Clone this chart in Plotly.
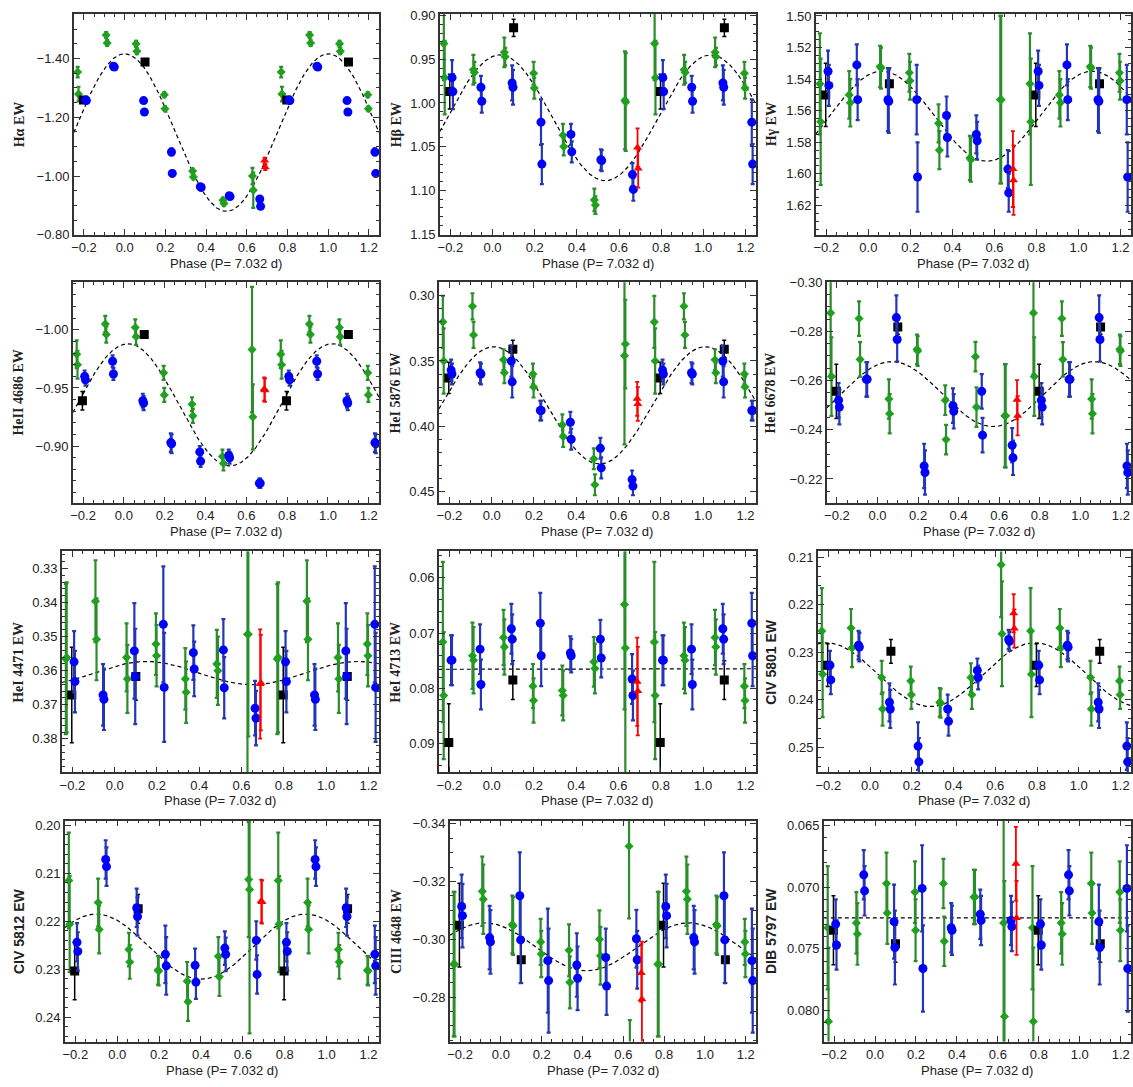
import numpy as np
import plotly.graph_objects as go

# ---------------- phases (base, folded into [0,1)) ----------------
GREEN_PHASE = [0.056, 0.060, 0.195, 0.198, 0.334, 0.338, 0.483, 0.488,
               0.628, 0.632, 0.769, 0.773, 0.909, 0.914]
BLUE_PHASE = [0.093, 0.097, 0.230, 0.234, 0.372, 0.376, 0.514, 0.518,
              0.664, 0.668, 0.808, 0.812, 0.945, 0.949]
BLACK_PHASE = [0.100, 0.797]
RED_PHASE = [0.688, 0.691]

# ---------------- H alpha ----------------
ha_green = [-1.450, -1.425, -1.277, -1.229, -1.017, -0.997, -0.918, -0.907,
            -1.000, -0.952, -1.354, -1.279, -1.480, -1.453]
ha_green_err = [0.010, 0.010, 0.008, 0.008, 0.008, 0.008, 0.008, 0.008,
                0.028, 0.060, 0.018, 0.025, 0.010, 0.010]
ha_blue = [-1.257, -1.218, -1.082, -1.009, -0.964, -0.961, -0.933, -0.930,
           -0.922, -0.897, -1.259, -1.257, -1.374, -1.371]
ha_blue_err = [0.008, 0.008, 0.012, 0.010, 0.006, 0.006, 0.006, 0.006,
               0.006, 0.006, 0.006, 0.006, 0.006, 0.006]
ha_black = [-1.388, -1.259]
ha_black_err = [0.005, 0.005]
ha_red = [-1.053, -1.030]
ha_red_err = [0.010, 0.010]
ha_fit = (-1.148, 0.268, 0.0)

# ---------------- H beta ----------------
hb_green = [0.942, 0.947, 0.966, 0.983, 1.037, 1.050, 1.111, 1.117,
            0.997, 0.999, 0.932, 0.971, 0.962, 0.965]
hb_green_err = [0.017, 0.010, 0.013, 0.012, 0.013, 0.010, 0.013, 0.010,
                0.056, 0.056, 0.042, 0.042, 0.017, 0.012]
hb_blue = [0.977, 0.982, 1.022, 1.070, 1.036, 1.056, 1.065, 1.066,
           1.082, 1.099, 0.971, 0.987, 0.982, 0.998]
hb_blue_err = [0.020, 0.020, 0.026, 0.023, 0.012, 0.012, 0.012, 0.012,
               0.013, 0.013, 0.020, 0.020, 0.013, 0.013]
hb_black = [0.914, 0.987]
hb_black_err = [0.010, 0.020]
hb_red = [1.051, 1.075]
hb_red_err = [0.022, 0.022]
hb_fit = (1.017, 0.072, 0.035)

# ---------------- H gamma ----------------
hg_green = [1.532, 1.533, 1.536, 1.541, 1.568, 1.585, 1.590, 1.591,
            1.553, 1.553, 1.543, 1.567, 1.550, 1.555]
hg_green_err = [0.013, 0.013, 0.012, 0.012, 0.012, 0.012, 0.014, 0.014,
                0.053, 0.053, 0.032, 0.040, 0.015, 0.015]
hg_blue = [1.553, 1.554, 1.553, 1.602, 1.563, 1.577, 1.575, 1.579,
           1.597, 1.612, 1.535, 1.544, 1.531, 1.553]
hg_blue_err = [0.020, 0.020, 0.022, 0.022, 0.012, 0.012, 0.012, 0.012,
               0.012, 0.012, 0.013, 0.013, 0.013, 0.013]
hg_black = [1.543, 1.550]
hg_black_err = [0.010, 0.020]
hg_red = [1.597, 1.604]
hg_red_err = [0.024, 0.022]
hg_fit = (1.5635, 0.0285, 0.065)

# ---------------- HeII 4686 ----------------
he4686_green = [-1.002, -0.994, -0.963, -0.944, -0.936, -0.926, -0.891, -0.885,
                -0.983, -0.925, -0.979, -0.970, -1.005, -0.996]
he4686_green_err = [0.007, 0.007, 0.006, 0.006, 0.006, 0.006, 0.006, 0.006,
                    0.054, 0.028, 0.012, 0.012, 0.007, 0.007]
he4686_blue = [-0.939, -0.937, -0.903, -0.902, -0.895, -0.887, -0.892, -0.890,
               -0.868, -0.868, -0.960, -0.957, -0.973, -0.962]
he4686_blue_err = [0.006, 0.006, 0.008, 0.008, 0.005, 0.005, 0.005, 0.005,
                   0.004, 0.004, 0.005, 0.005, 0.005, 0.005]
he4686_black = [-0.996, -0.939]
he4686_black_err = [0.003, 0.008]
he4686_red = [-0.949, -0.948]
he4686_red_err = [0.010, 0.010]
he4686_fit = (-0.9355, 0.0525, 0.02)

# ---------------- HeI 5876 ----------------
he5876_green = [0.349, 0.359, 0.360, 0.370, 0.399, 0.408, 0.425, 0.445,
                0.346, 0.337, 0.320, 0.350, 0.308, 0.330]
he5876_green_err = [0.008, 0.008, 0.008, 0.008, 0.008, 0.008, 0.008, 0.008,
                    0.068, 0.034, 0.020, 0.025, 0.010, 0.010]
he5876_blue = [0.350, 0.366, 0.388, 0.388, 0.397, 0.410, 0.417, 0.432,
               0.441, 0.446, 0.357, 0.360, 0.359, 0.360]
he5876_blue_err = [0.012, 0.012, 0.0075, 0.0075, 0.008, 0.008, 0.008, 0.008,
                   0.007, 0.007, 0.008, 0.008, 0.008, 0.008]
he5876_black = [0.341, 0.363]
he5876_black_err = [0.007, 0.012]
he5876_red = [0.379, 0.383]
he5876_red_err = [0.013, 0.013]
he5876_fit = (0.384, 0.045, 0.01)

# ---------------- HeI 6678 ----------------
he6678_green = [-0.2525, -0.2465, -0.2727, -0.2720, -0.2520, -0.2360, -0.2697, -0.2492,
                -0.2457, -0.2457, -0.2875, -0.2616, -0.2852, -0.2686]
he6678_green_err = [0.008, 0.008, 0.006, 0.006, 0.006, 0.006, 0.006, 0.008,
                    0.021, 0.021, 0.025, 0.016, 0.007, 0.007]
he6678_blue = [-0.2856, -0.2767, -0.2253, -0.2226, -0.2498, -0.2475, -0.2556, -0.2378,
               -0.2337, -0.2286, -0.2520, -0.2492, -0.2605, -0.2605]
he6678_blue_err = [0.009, 0.009, 0.009, 0.009, 0.007, 0.007, 0.007, 0.007,
                   0.007, 0.007, 0.007, 0.007, 0.007, 0.007]
he6678_black = [-0.2818, -0.2556]
he6678_black_err = [0.003, 0.011]
he6678_red = [-0.2522, -0.2457]
he6678_red_err = [0.008, 0.008]
he6678_fit = (-0.2545, 0.0132, 0.07)

# ---------------- HeI 4471 ----------------
he4471_green = [0.3561, 0.3624, 0.3522, 0.3556, 0.3624, 0.3663, 0.3580, 0.3600,
                0.3493, 0.3493, 0.3566, 0.3561, 0.3396, 0.3508]
he4471_green_err = [0.010, 0.010, 0.009, 0.009, 0.009, 0.009, 0.010, 0.010,
                    0.045, 0.030, 0.022, 0.022, 0.012, 0.012]
he4471_blue = [0.3542, 0.3617, 0.3464, 0.3649, 0.3547, 0.3595, 0.3539, 0.3650,
               0.3710, 0.3739, 0.3574, 0.3632, 0.3671, 0.3684]
he4471_blue_err = [0.014, 0.014, 0.017, 0.016, 0.008, 0.008, 0.009, 0.009,
                   0.008, 0.008, 0.009, 0.009, 0.009, 0.009]
he4471_black = [0.3617, 0.3671]
he4471_black_err = [0.007, 0.014]
he4471_red = [0.3639, 0.3635]
he4471_red_err = [0.016, 0.014]
he4471_fit = (0.3607, 0.0034, 0.15)

# ---------------- HeI 4713 ----------------
he4713_green = [0.0708, 0.0725, 0.0796, 0.0822, 0.0804, 0.0813, 0.0752, 0.0764,
                0.0648, 0.0727, 0.0716, 0.0813, 0.0741, 0.0749]
he4713_green_err = [0.005, 0.005, 0.004, 0.004, 0.0045, 0.0045, 0.0045, 0.0045,
                    0.019, 0.025, 0.0145, 0.0115, 0.006, 0.006]
he4713_blue = [0.0692, 0.0711, 0.0682, 0.0741, 0.0736, 0.0741, 0.0711, 0.0745,
               0.0783, 0.0813, 0.0749, 0.0749, 0.0729, 0.0793]
he4713_blue_err = [0.0045, 0.0045, 0.0055, 0.0055, 0.003, 0.003, 0.0035, 0.0035,
                   0.0045, 0.0045, 0.0045, 0.0045, 0.0045, 0.0045]
he4713_black = [0.0785, 0.0898]
he4713_black_err = [0.0035, 0.007]
he4713_red = [0.0788, 0.0805]
he4713_red_err = [0.008, 0.008]
he4713_fit = (0.0765, 0.00005, 0.3)

# ---------------- CIV 5801 ----------------
c5801_green = [0.2353, 0.2419, 0.2360, 0.2389, 0.2405, 0.2407, 0.2353, 0.2389,
               0.2116, 0.2261, 0.2255, 0.2346, 0.2249, 0.2291]
c5801_green_err = [0.0035, 0.0035, 0.003, 0.003, 0.003, 0.003, 0.003, 0.003,
                   0.011, 0.011, 0.009, 0.009, 0.004, 0.004]
c5801_blue = [0.2405, 0.2419, 0.2497, 0.2530, 0.2419, 0.2445, 0.2338, 0.2353,
              0.2273, 0.2277, 0.2327, 0.2358, 0.2285, 0.2289]
c5801_blue_err = [0.004, 0.004, 0.005, 0.005, 0.003, 0.003, 0.0025, 0.0025,
                  0.002, 0.002, 0.003, 0.003, 0.003, 0.003]
c5801_black = [0.2298, 0.2327]
c5801_black_err = [0.0025, 0.0045]
c5801_red = [0.2218, 0.2250]
c5801_red_err = [0.004, 0.004]
c5801_fit = (0.2347, 0.0067, 0.79)

# ---------------- CIV 5812 ----------------
c5812_green = [0.2259, 0.2285, 0.2302, 0.2304, 0.2325, 0.2368, 0.2273, 0.2316,
               0.2113, 0.2134, 0.2115, 0.2206, 0.2161, 0.2217]
c5812_green_err = [0.0035, 0.0035, 0.003, 0.003, 0.004, 0.004, 0.004, 0.004,
                   0.012, 0.030, 0.010, 0.010, 0.005, 0.005]
c5812_blue = [0.2172, 0.2190, 0.2269, 0.2293, 0.2292, 0.2327, 0.2256, 0.2269,
              0.2240, 0.2311, 0.2244, 0.2263, 0.2071, 0.2086]
c5812_blue_err = [0.004, 0.004, 0.006, 0.006, 0.0035, 0.0035, 0.0035, 0.0035,
                  0.004, 0.004, 0.004, 0.004, 0.004, 0.004]
c5812_black = [0.2174, 0.2304]
c5812_black_err = [0.003, 0.006]
c5812_red = [0.2158, 0.2160]
c5812_red_err = [0.0045, 0.0045]
c5812_fit = (0.2253, 0.0068, 0.90)

# ---------------- CIII 4648 ----------------
c4648_green = [-0.3051, -0.3046, -0.2991, -0.2949, -0.2962, -0.2851, -0.3000, -0.2943,
               -0.3322, -0.2600, -0.2914, -0.2914, -0.3166, -0.3139]
c4648_green_err = [0.010, 0.010, 0.008, 0.008, 0.009, 0.009, 0.010, 0.010,
                   0.025, 0.012, 0.025, 0.025, 0.012, 0.012]
c4648_blue = [-0.3151, -0.2998, -0.2926, -0.2857, -0.2911, -0.2865, -0.2937, -0.2838,
              -0.3002, -0.2929, -0.3114, -0.3082, -0.3006, -0.2991]
c4648_blue_err = [0.015, 0.015, 0.018, 0.018, 0.011, 0.011, 0.010, 0.010,
                  0.010, 0.010, 0.011, 0.011, 0.011, 0.011]
c4648_black = [-0.2929, -0.3049]
c4648_black_err = [0.008, 0.0145]
c4648_red = [-0.2883, -0.2792]
c4648_red_err = [0.010, 0.020]
c4648_fit = (-0.2974, 0.0083, 0.92)

# ---------------- DIB 5797 ----------------
dib_green = [0.0697, 0.0721, 0.0704, 0.0735, 0.0697, 0.0744, 0.0708, 0.0708,
             0.0729, 0.0805, 0.0733, 0.0809, 0.0729, 0.0738]
dib_green_err = [0.0025, 0.0025, 0.0025, 0.0025, 0.002, 0.002, 0.0022, 0.0022,
                 0.011, 0.011, 0.005, 0.006, 0.0025, 0.0025]
dib_blue = [0.0728, 0.0749, 0.0701, 0.0766, 0.0733, 0.0735, 0.0722, 0.0727,
            0.0727, 0.0732, 0.0730, 0.0747, 0.0690, 0.0703]
dib_blue_err = [0.003, 0.003, 0.0035, 0.0035, 0.002, 0.002, 0.002, 0.002,
                0.002, 0.002, 0.002, 0.002, 0.002, 0.002]
dib_black = [0.0746, 0.0735]
dib_black_err = [0.0015, 0.0028]
dib_red = [0.0681, 0.0725]
dib_red_err = [0.003, 0.003]
dib_fit = (0.0725, 0.0, 0.0)

# ---------------- panel meta ----------------
PANEL_LABELS = ["Hα EW", "Hβ EW", "Hγ EW",
                "HeII 4686 EW", "HeI 5876 EW", "HeI 6678 EW",
                "HeI 4471 EW", "HeI 4713 EW", "CIV 5801 EW",
                "CIV 5812 EW", "CIII 4648 EW", "DIB 5797 EW"]
X_TITLE = "Phase (P= 7.032 d)"

DATA = [
    (ha_green, ha_green_err, ha_blue, ha_blue_err, ha_black, ha_black_err, ha_red, ha_red_err, ha_fit),
    (hb_green, hb_green_err, hb_blue, hb_blue_err, hb_black, hb_black_err, hb_red, hb_red_err, hb_fit),
    (hg_green, hg_green_err, hg_blue, hg_blue_err, hg_black, hg_black_err, hg_red, hg_red_err, hg_fit),
    (he4686_green, he4686_green_err, he4686_blue, he4686_blue_err, he4686_black, he4686_black_err, he4686_red, he4686_red_err, he4686_fit),
    (he5876_green, he5876_green_err, he5876_blue, he5876_blue_err, he5876_black, he5876_black_err, he5876_red, he5876_red_err, he5876_fit),
    (he6678_green, he6678_green_err, he6678_blue, he6678_blue_err, he6678_black, he6678_black_err, he6678_red, he6678_red_err, he6678_fit),
    (he4471_green, he4471_green_err, he4471_blue, he4471_blue_err, he4471_black, he4471_black_err, he4471_red, he4471_red_err, he4471_fit),
    (he4713_green, he4713_green_err, he4713_blue, he4713_blue_err, he4713_black, he4713_black_err, he4713_red, he4713_red_err, he4713_fit),
    (c5801_green, c5801_green_err, c5801_blue, c5801_blue_err, c5801_black, c5801_black_err, c5801_red, c5801_red_err, c5801_fit),
    (c5812_green, c5812_green_err, c5812_blue, c5812_blue_err, c5812_black, c5812_black_err, c5812_red, c5812_red_err, c5812_fit),
    (c4648_green, c4648_green_err, c4648_blue, c4648_blue_err, c4648_black, c4648_black_err, c4648_red, c4648_red_err, c4648_fit),
    (dib_green, dib_green_err, dib_blue, dib_blue_err, dib_black, dib_black_err, dib_red, dib_red_err, dib_fit),
]

# y ranges: (bottom, top) -> axes inverted
Y_RANGES = [(-0.80, -1.552), (1.151, 0.898), (1.6386, 1.4987),
            (-0.851, -1.041), (0.459, 0.2895), (-0.2102, -0.3000),
            (0.3898, 0.3250), (0.0952, 0.0552), (0.2552, 0.2088),
            (0.2451, 0.1990), (-0.2646, -0.3411), (0.08253, 0.0646)]
Y_DTICK = [0.2, 0.05, 0.02, 0.05, 0.05, 0.02, 0.01, 0.01, 0.01, 0.01, 0.02, 0.005]
Y_MINOR = [0.05, 0.01, 0.005, 0.01, 0.01, 0.005, 0.002, 0.002, 0.002, 0.002, 0.005, 0.001]
Y_FMT = [".2f"] * 11 + [".3f"]
TITLE_SERIF = [True, True, True, True, True, True, True, True, False, False, True, False]

# layout in pixels
W, H = 1133, 1087
LEFTS = [71, 438, 815, 70, 437, 826, 59, 437, 817, 62, 448, 823]
RIGHTS = [377, 755, 1131]
ROWS = [(7, 231), (279, 503), (552, 776), (825, 1049)]
YTITLE_X = [16, 394, 770]


def unfold(phases, vals, errs):
    xs, ys, es = [], [], []
    for p, v, e in zip(phases, vals, errs):
        for shift in (-1.0, 0.0, 1.0):
            q = p + shift
            if -0.25 <= q <= 1.25:
                xs.append(q)
                ys.append(v)
                es.append(e)
    return xs, ys, es


GREEN = "#1fa01f"
GREEN_E = "#2b8c2b"
BLUE = "#0000ff"
BLUE_E = "#2436b8"
AX = "#333333"

fig = go.Figure()
annotations = []
layout_axes = {}

for i, d in enumerate(DATA):
    n = i + 1
    gv, ge, bv, be, kv, ke, rv, re_, fit = d
    xa = "x" if n == 1 else f"x{n}"
    ya = "y" if n == 1 else f"y{n}"
    row, col = divmod(i, 3)

    # fitted sinusoid
    xs = np.linspace(-0.25, 1.25, 400)
    mean, amp, ph = fit
    ys = mean - amp * np.cos(2 * np.pi * (xs - ph))
    fig.add_trace(go.Scatter(x=xs, y=ys, mode="lines",
                             line=dict(color="black", width=1.2, dash="4px,3px"),
                             xaxis=xa, yaxis=ya, showlegend=False, hoverinfo="skip"))

    specs = [
        (GREEN_PHASE, gv, ge, dict(symbol="diamond", size=7, color=GREEN), GREEN_E, 2.2),
        (BLACK_PHASE, kv, ke, dict(symbol="square", size=9, color="black"), "black", 1.5),
        (BLUE_PHASE, bv, be, dict(symbol="circle", size=9, color=BLUE), BLUE_E, 2.2),
        (RED_PHASE, rv, re_, dict(symbol="triangle-up", size=8, color="#ff0000"), "#ff0000", 1.8),
    ]
    for phases, vals, errs, mk, ecol, eth in specs:
        x, y, e = unfold(phases, vals, errs)
        fig.add_trace(go.Scatter(x=x, y=y, mode="markers",
                                 marker=dict(line=dict(width=0), **mk),
                                 error_y=dict(type="data", array=e, visible=True,
                                              color=ecol, thickness=eth, width=2),
                                 xaxis=xa, yaxis=ya, showlegend=False))

    left = LEFTS[i]
    right = RIGHTS[col]
    top, bottom = ROWS[row]
    xdom = [left / W, right / W]
    ydom = [1 - bottom / H, 1 - top / H]

    xkey = "xaxis" if n == 1 else f"xaxis{n}"
    ykey = "yaxis" if n == 1 else f"yaxis{n}"
    layout_axes[xkey] = dict(
        domain=xdom, anchor=ya, range=[-0.25, 1.25], tick0=0, dtick=0.2,
        tickformat=".1f", showline=True, mirror="allticks", linecolor=AX,
        linewidth=1.5, ticks="inside", ticklen=6, tickwidth=1, tickcolor=AX,
        showgrid=False, zeroline=False,
        tickfont=dict(family="Liberation Sans, Arial, sans-serif", size=13, color="#222"),
        minor=dict(dtick=0.05, tick0=0, ticks="inside", ticklen=3, tickcolor=AX, showgrid=False),
    )
    layout_axes[ykey] = dict(
        domain=ydom, anchor=xa, range=list(Y_RANGES[i]), tick0=0, dtick=Y_DTICK[i],
        tickformat=Y_FMT[i], showline=True, mirror="allticks", linecolor=AX,
        linewidth=1.5, ticks="inside", ticklen=6, tickwidth=1, tickcolor=AX,
        showgrid=False, zeroline=False,
        tickfont=dict(family="Liberation Sans, Arial, sans-serif", size=13, color="#222"),
        minor=dict(dtick=Y_MINOR[i], tick0=0, ticks="inside", ticklen=3, tickcolor=AX, showgrid=False),
    )

    # x title
    annotations.append(dict(
        text=X_TITLE, xref="paper", yref="paper",
        x=(left + right) / 2 / W, y=1 - (bottom + 29) / H,
        xanchor="center", yanchor="middle", showarrow=False,
        font=dict(family="Liberation Sans, Arial, sans-serif", size=13, color="#222")))
    # y title
    fam = "Liberation Serif, Times New Roman, serif" if TITLE_SERIF[i] else "Liberation Sans, Arial, sans-serif"
    annotations.append(dict(
        text=f"<b>{PANEL_LABELS[i]}</b>", xref="paper", yref="paper",
        x=YTITLE_X[col] / W, y=1 - (top + bottom) / 2 / H,
        xanchor="center", yanchor="middle", textangle=-90, showarrow=False,
        font=dict(family=fam, size=14, color="#222")))

fig.update_layout(
    width=W, height=H,
    margin=dict(l=0, r=0, t=0, b=0),
    paper_bgcolor="white", plot_bgcolor="white",
    showlegend=False,
    annotations=annotations,
    **layout_axes,
)

fig.write_html("out.html")
